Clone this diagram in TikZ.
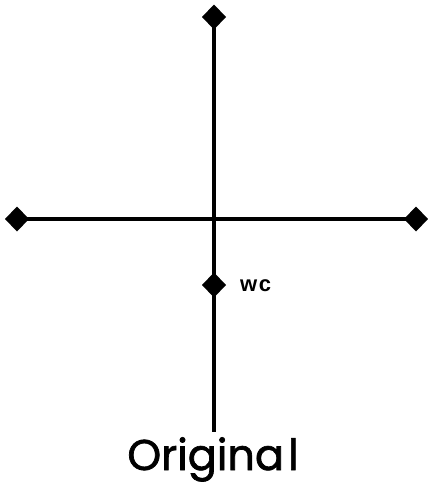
\documentclass[tikz,border=0pt]{standalone}
\usepackage{fontspec}
\newfontfamily\labfont{Liberation Sans}
\newfontfamily\titlefont[FakeBold=1.6]{Poppins}
\begin{document}
\begin{tikzpicture}[x=1pt,y=-1pt,
  axis/.style={line width=3.2pt},
  dmd/.style={fill=black,draw=none},
]
\useasboundingbox (0,0) rectangle (428,490);
\coordinate (top) at (214,17);
\coordinate (bot) at (214,432);
\coordinate (lft) at (17,219);
\coordinate (rgt) at (416,219);
\coordinate (wcp) at (214,285);
\draw[axis] (top) -- (bot);
\draw[axis] (lft) -- (rgt);
\foreach \p in {top,lft,rgt,wcp}{
  \fill[dmd] ([yshift=-12.5pt]\p) -- ([xshift=12pt]\p) -- ([yshift=12.5pt]\p) -- ([xshift=-12pt]\p) -- cycle;
}
\node[anchor=west,inner sep=0pt,font=\labfont\bfseries\fontsize{22}{26}\selectfont] (wc) at (240,286) {w\kern1.5pt c};
\node[anchor=base,inner sep=0pt,font=\titlefont\fontsize{43}{48}\selectfont] (title) at (213,470) {Origina\kern4pt l};
\end{tikzpicture}
\end{document}
